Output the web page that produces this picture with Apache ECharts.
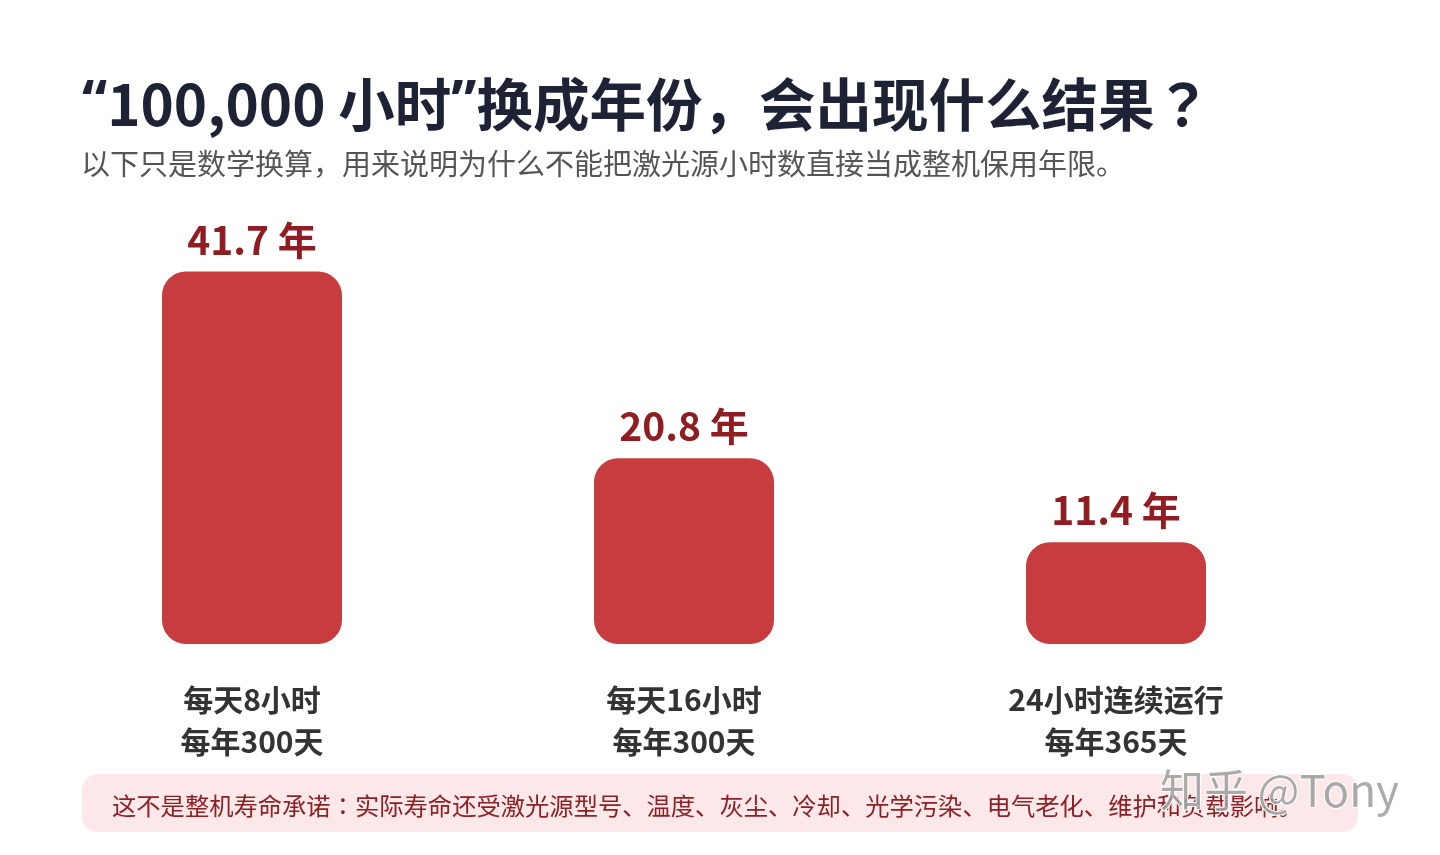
<!DOCTYPE html>
<html>
<head>
    <meta charset="utf-8">
    <title>100,000 小时换成年份</title>
    <script src="https://cdn.jsdelivr.net/npm/echarts@6/dist/echarts.min.js"></script>
    <style>
        html, body { margin: 0; padding: 0; background: #ffffff; }
        #chart { width: 1440px; height: 855px; }
    </style>
</head>
<body>
    <div id="chart"></div>
    <script>

    // datos
    let categorias = ['每天8小时\n每年300天', '每天16小时\n每年300天', '24小时连续运行\n每年365天'];
    let anios = [41.7, 20.8, 11.4];

    let titulo = '“100,000 小时”换成年份，会出现什么结果？';
    let subtitulo = '以下只是数学换算，用来说明为什么不能把激光源小时数直接当成整机保用年限。';
    let nota = '这不是整机寿命承诺：实际寿命还受激光源型号、温度、灰尘、冷却、光学污染、电气老化、维护和负载影响。';

    let fuente = '"Noto Sans CJK SC", "Noto Sans", sans-serif';
    let fuenteJP = '"Noto Sans CJK JP", "Noto Sans CJK SC", sans-serif';

    // comillas estrechas y signos centrados, como en la imagen
    function marcar(texto) {
        return texto
            .replace(/“/g, '{q|“}')
            .replace(/”/g, '{q|”}')
            .replace(/？/g, '{p|？}')
            .replace(/：/g, '{p|：}');
    }

    let chart = echarts.init(document.getElementById('chart'));

    let option = {
        backgroundColor: '#ffffff',
        animation: false,
        title: [{
            text: marcar(titulo),
            left: 82,
            top: 76,
            padding: 0,
            textStyle: {
                fontFamily: fuente,
                fontSize: 56.5,
                fontWeight: 'bold',
                color: '#1e2235',
                rich: {
                    q: { fontFamily: '"Noto Sans", sans-serif', fontSize: 56.5, fontWeight: 'bold', color: '#1e2235' },
                    p: { fontFamily: fuenteJP, fontSize: 56.5, fontWeight: 'bold', color: '#1e2235' }
                }
            }
        }, {
            text: subtitulo,
            left: 81,
            top: 149,
            padding: 0,
            textStyle: {
                fontFamily: fuente,
                fontSize: 29,
                fontWeight: 'normal',
                color: '#555555'
            }
        }],
        grid: {
            left: 36,
            right: 108,
            top: 242,
            bottom: 211,
            containLabel: false
        },
        xAxis: {
            type: 'category',
            data: categorias,
            axisLine: { show: false },
            axisTick: { show: false },
            axisLabel: {
                margin: 35,
                fontFamily: fuente,
                fontSize: 30,
                fontWeight: 'bold',
                lineHeight: 42,
                color: '#333333'
            }
        },
        yAxis: {
            type: 'value',
            min: 0,
            max: 45,
            show: false,
            splitLine: { show: false }
        },
        series: [{
            type: 'bar',
            data: anios,
            barWidth: 180,
            itemStyle: {
                color: '#c73d3f',
                borderRadius: 24
            },
            label: {
                show: true,
                position: 'top',
                distance: 12,
                formatter: '{c} 年',
                fontFamily: fuente,
                fontSize: 39,
                fontWeight: 'bold',
                color: '#8f1d21'
            }
        }],
        graphic: [{
            type: 'rect',
            shape: { x: 82, y: 774, width: 1276, height: 58, r: 16 },
            style: { fill: '#fde8e9' }
        }, {
            type: 'text',
            x: 112,
            y: 806,
            style: {
                text: marcar(nota),
                fontFamily: fuente,
                fontSize: 24.3,
                fill: '#8b2025',
                verticalAlign: 'middle',
                rich: {
                    p: { fontFamily: fuenteJP, fontSize: 24.3, fill: '#8b2025' }
                }
            }
        }, {
            type: 'text',
            x: 1160,
            y: 790,
            style: {
                text: '知乎 @Tony',
                fontFamily: fuente,
                fontSize: 44,
                fill: 'rgba(150,150,150,0.8)',
                stroke: '#ffffff',
                lineWidth: 2,
                verticalAlign: 'middle'
            }
        }]
    };

    chart.setOption(option);

    </script>
</body>
</html>
